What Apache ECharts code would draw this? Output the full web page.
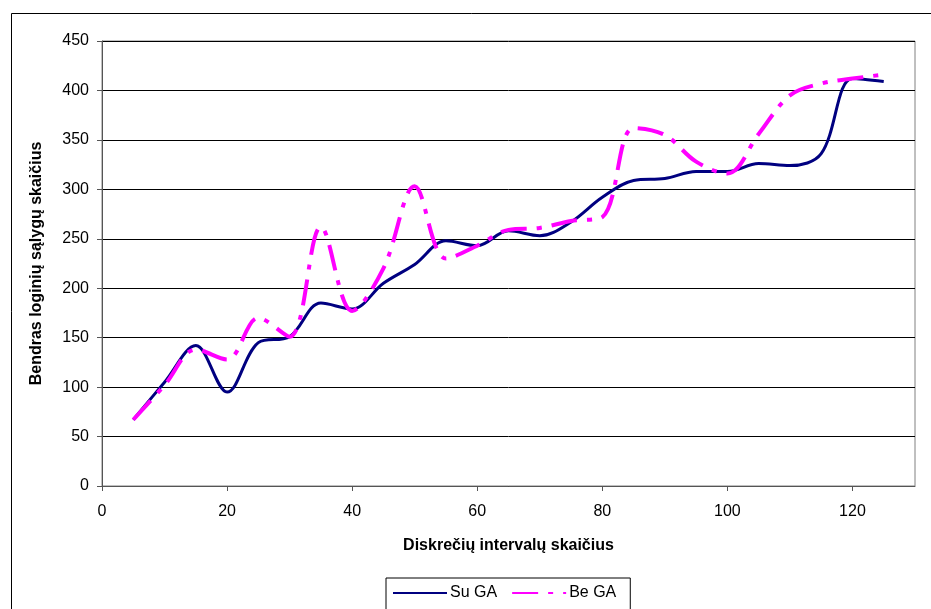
<!DOCTYPE html>
<html>
<head>
<meta charset="utf-8">
<script src="https://cdn.jsdelivr.net/npm/echarts@6/dist/echarts.min.js"></script>
<style>
html,body{margin:0;padding:0;background:#fff;}
#chart{width:931px;height:609px;}
</style>
</head>
<body>
<div id="chart"></div>
<script>
var xValues = [5, 10, 15, 20, 25, 30, 35, 40, 45, 50, 55, 60, 65, 70, 75, 80, 85, 90, 95, 100, 105, 110, 115, 120, 125];
var suGA = [67, 105, 142, 95, 145, 151, 185, 179, 205, 224, 248, 243, 258, 253, 267, 292, 309, 311, 318, 318, 326, 324, 336, 412, 409];
var beGA = [67, 102, 138, 128, 170, 151, 262, 177, 220, 303, 230, 243, 259, 261, 268, 272, 362, 355, 328, 316, 356, 395, 407, 412, 416];
var seriesNames = ['Su GA', 'Be GA'];
var xTitle = 'Diskrečių intervalų skaičius';
var yTitle = 'Bendras loginių sąlygų skaičius';

function pairs(ys) { return xValues.map(function (x, i) { return [x, ys[i]]; }); }

var FONT = '"Liberation Sans", Arial, sans-serif';
var chart = echarts.init(document.getElementById('chart'), null, { renderer: 'canvas' });
chart.setOption({
  animation: false,
  backgroundColor: '#fff',
  graphic: [{
    type: 'rect', left: 9, top: 11, silent: true,
    shape: { x: 0, y: 0, width: 1000, height: 800 },
    style: { fill: 'none', stroke: '#000', lineWidth: 1 }
  }],
  grid: { left: 102, right: 16, top: 41, bottom: 123, show: true, borderColor: '#808080', borderWidth: 1, containLabel: false },
  xAxis: {
    type: 'value', min: 0, max: 130, interval: 20,
    name: xTitle, nameLocation: 'middle', nameGap: 52,
    nameTextStyle: { fontFamily: FONT, fontSize: 16, fontWeight: 'bold', color: '#000' },
    axisLine: { show: true, lineStyle: { color: '#555', width: 1 } },
    axisTick: { show: true, inside: false, length: 5, lineStyle: { color: '#555' } },
    axisLabel: { fontFamily: FONT, fontSize: 16, color: '#000', margin: 18, showMaxLabel: false },
    splitLine: { show: false }
  },
  yAxis: {
    type: 'value', min: 0, max: 450, interval: 50,
    name: yTitle, nameLocation: 'middle', nameGap: 57, nameRotate: 90,
    nameTextStyle: { fontFamily: FONT, fontSize: 16, fontWeight: 'bold', color: '#000' },
    axisLine: { show: true, lineStyle: { color: '#555', width: 1 } },
    axisTick: { show: true, inside: false, length: 5, lineStyle: { color: '#555' } },
    axisLabel: { fontFamily: FONT, fontSize: 16, color: '#000', margin: 13 },
    splitLine: { show: true, lineStyle: { color: '#000', width: 1 } }
  },
  legend: {
    top: 578, left: 386,
    padding: [7, 14, 20, 6],
    borderColor: '#000', borderWidth: 1,
    itemWidth: 54, itemHeight: 12, itemGap: 14,
    itemStyle: { opacity: 0 },
    textStyle: { fontFamily: FONT, fontSize: 16, color: '#000', padding: [0, 0, 0, -2] },
    data: seriesNames
  },
  series: [{
    name: seriesNames[0], type: 'line', data: pairs(suGA),
    smooth: 0.35, symbol: 'none', showSymbol: false,
    lineStyle: { color: '#000080', width: 3 },
    itemStyle: { color: '#000080' }
  }, {
    name: seriesNames[1], type: 'line', data: pairs(beGA),
    smooth: 0.35, symbol: 'none', showSymbol: false,
    lineStyle: { color: '#FF00FF', width: 4, type: [26, 10, 5, 10], cap: 'butt' },
    itemStyle: { color: '#FF00FF' }
  }]
});
</script>
</body>
</html>
